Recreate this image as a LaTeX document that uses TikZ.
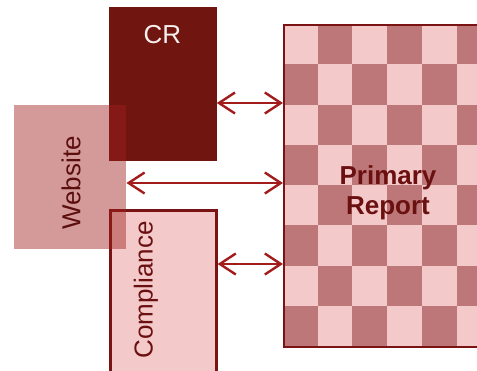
\documentclass[tikz,border=0pt]{standalone}
\usepackage{fontspec}
\setmainfont{Liberation Sans}
\usetikzlibrary{arrows.meta}
\definecolor{crfill}{HTML}{701510}
\definecolor{webfill}{HTML}{9F1F1F}
\definecolor{lightpink}{HTML}{F4C9CA}
\definecolor{darkpink}{HTML}{BD7778}
\definecolor{border}{HTML}{7A1414}
\definecolor{txtred}{HTML}{6B1010}
\definecolor{arrowred}{HTML}{A31C1C}
\begin{document}
\begin{tikzpicture}[x=1pt,y=-1pt,
  boxtext/.style={font=\fontsize{26}{30}\selectfont},
  link/.style={draw=arrowred,line width=2.4pt,
    {Straight Barb[length=16pt,width=21pt]}-{Straight Barb[length=16pt,width=21pt]}}]
\useasboundingbox (0,0) rectangle (477,370);
% CR
\node[fill=crfill,draw=crfill,line width=0.8pt,minimum width=107pt,minimum height=153pt,
  inner sep=0pt,anchor=north west] (cr) at (109,7) {};
\node[boxtext,text=white!93!crfill,anchor=center] (crt) at (162.5,35) {CR};
% Compliance
\node[fill=lightpink,draw=border,line width=2.6pt,minimum width=106pt,minimum height=180pt,
  inner sep=0pt,anchor=north west] (co) at (109,209) {};
\node[boxtext,text=txtred,rotate=90] (cot) at (146,290) {Compliance};
% Primary report checkerboard
\fill[lightpink] (283,24) rectangle (492,346);
\foreach \i in {0,...,5}{
  \foreach \j in {0,...,7}{
    \pgfmathtruncatemacro{\parity}{mod(\i+\j,2)}
    \ifnum\parity=1
      \fill[darkpink] (283+34.7*\i,24+40.25*\j) rectangle (283+34.7*\i+34.7,24+40.25*\j+40.25);
    \fi
  }
}
\node[draw=border,line width=2.4pt,minimum width=209pt,minimum height=322pt,
  inner sep=0pt,anchor=north west] (pr) at (283,24) {};
\node[boxtext,text=txtred,font=\fontsize{26}{30}\selectfont\bfseries,align=center] (prt) at (388,193) {Primary\\Report};
% Website (translucent, on top)
\node[fill=webfill,fill opacity=0.45,minimum width=112pt,minimum height=144pt,
  inner sep=0pt,anchor=north west] (web) at (14,105) {};
\node[boxtext,text=txtred!85!black,rotate=90] (webt) at (71,183) {Website};
% Connectors
\draw[link] (cr.east |- 0,103) -- (pr.west |- 0,103);
\draw[link] (web.east |- 0,183) -- (pr.west |- 0,183);
\draw[link] (co.east |- 0,264) -- (pr.west |- 0,264);
\end{tikzpicture}
\end{document}
